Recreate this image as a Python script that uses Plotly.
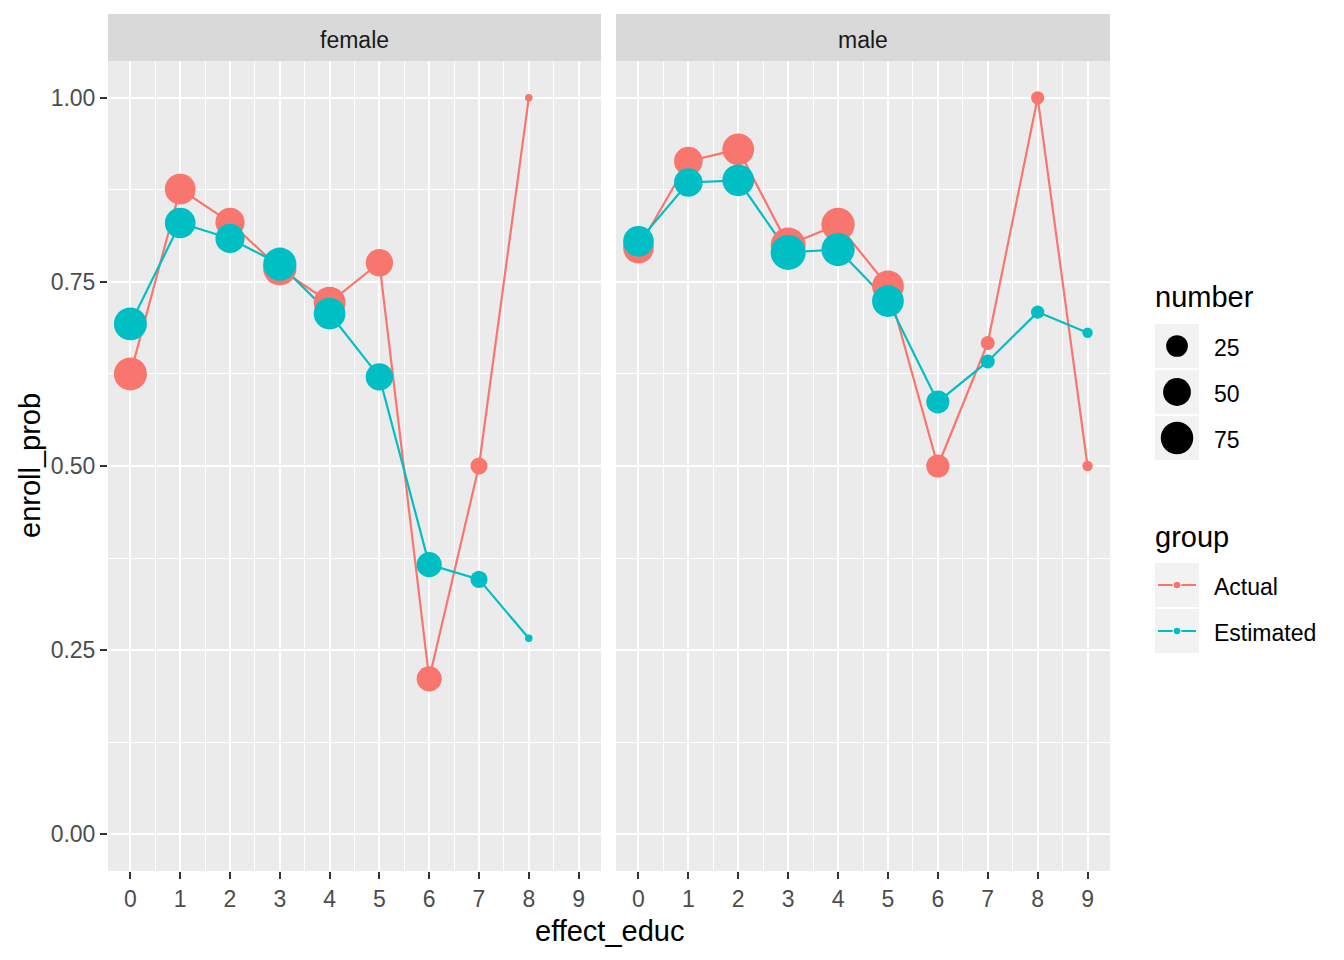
import numpy as np
import plotly.graph_objects as go

W, H = 1344, 960

RED = "#F8766D"
TEAL = "#00BFC4"
PANEL_BG = "#EBEBEB"
STRIP_BG = "#D9D9D9"
KEY_BG = "#F2F2F2"
TICK_GRAY = "#4D4D4D"
FONT = "Liberation Sans, Arial, sans-serif"

# data
panels = ["female", "male"]
female_educ = [0, 1, 2, 3, 4, 5, 6, 7, 8]
female_actual = [0.625, 0.876, 0.831, 0.768, 0.722, 0.776, 0.211, 0.500, 1.000]
female_estimated = [0.693, 0.830, 0.809, 0.774, 0.707, 0.621, 0.366, 0.346, 0.266]
female_number = [78, 65, 57, 80, 71, 48, 38, 12, 1]

male_educ = [0, 1, 2, 3, 4, 5, 6, 7, 8, 9]
male_actual = [0.796, 0.914, 0.930, 0.800, 0.828, 0.744, 0.500, 0.667, 1.000, 0.500]
male_estimated = [0.805, 0.885, 0.888, 0.790, 0.794, 0.724, 0.587, 0.642, 0.709, 0.681]
male_number = [65, 54, 71, 91, 80, 71, 30, 6, 5, 2]

size_breaks = [25, 50, 75]
groups = ["Actual", "Estimated"]
group_colors = [RED, TEAL]

# size scale (area-like, as ggplot's scale_size)
all_numbers = female_number + male_number
N_MIN, N_MAX = min(all_numbers), max(all_numbers)
D_MIN, D_MAX = 7.5, 35.0


def size_px(n):
    n = np.asarray(n, dtype=float)
    return D_MIN + (D_MAX - D_MIN) * np.sqrt((n - N_MIN) / (N_MAX - N_MIN))


def px(x):
    return x / W


def py(y):
    return 1 - y / H


fig = go.Figure()

panel_data = [
    (female_educ, [female_actual, female_estimated], female_number),
    (male_educ, [male_actual, male_estimated], male_number),
]
for i, (xs, series, nums) in enumerate(panel_data):
    xa = "x" if i == 0 else "x2"
    ya = "y" if i == 0 else "y2"
    for name, ys, col in zip(groups, series, group_colors):
        fig.add_trace(go.Scatter(
            x=xs, y=ys, mode="lines", line=dict(color=col, width=2.2),
            xaxis=xa, yaxis=ya, showlegend=False, hoverinfo="skip",
        ))
    for name, ys, col in zip(groups, series, group_colors):
        fig.add_trace(go.Scatter(
            x=xs, y=ys, mode="markers", name=name,
            marker=dict(color=col, size=size_px(nums), opacity=1, line=dict(width=0)),
            xaxis=xa, yaxis=ya, showlegend=False,
        ))

# legend area drawn in its own pixel-space axes
LX0, LX1, LY0, LY1 = 1130, 1344, 250, 690
key_x0, key_x1 = 1155, 1199
key_cx = (key_x0 + key_x1) / 2
size_rows = [346, 392, 438]
group_rows = [585, 631]

fig.add_trace(go.Scatter(
    x=[key_cx] * len(size_breaks), y=size_rows, mode="markers",
    marker=dict(color="black", size=size_px(size_breaks), opacity=1, line=dict(width=0)),
    xaxis="x3", yaxis="y3", showlegend=False, hoverinfo="skip",
))
for row, col in zip(group_rows, group_colors):
    fig.add_trace(go.Scatter(
        x=[key_x0 + 3, key_cx, key_x1 - 3], y=[row] * 3, mode="lines+markers",
        line=dict(color=col, width=2.2), marker=dict(color=col, size=[0, 8, 0], opacity=1),
        xaxis="x3", yaxis="y3", showlegend=False, hoverinfo="skip",
    ))

shapes = [dict(type="rect", xref="x3", yref="y3", layer="below",
               x0=LX0, x1=LX1, y0=LY0, y1=LY1, fillcolor="white", line=dict(width=0))]
annotations = []
for row in size_rows + group_rows:
    shapes.append(dict(type="rect", xref="x3", yref="y3", layer="below",
                       x0=key_x0, x1=key_x1, y0=row - 22, y1=row + 22,
                       fillcolor=KEY_BG, line=dict(width=0)))
for row, n in zip(size_rows, size_breaks):
    annotations.append(dict(xref="x3", yref="y3", x=1212, y=row + 2, text=str(n),
                            showarrow=False, xanchor="left", yanchor="middle",
                            font=dict(size=23, color="black")))
for row, g in zip(group_rows, groups):
    annotations.append(dict(xref="x3", yref="y3", x=1212, y=row + 2, text=g,
                            showarrow=False, xanchor="left", yanchor="middle",
                            font=dict(size=23, color="black")))
for title, y in [("number", 297), ("group", 537)]:
    annotations.append(dict(xref="x3", yref="y3", x=1153, y=y, text=title,
                            showarrow=False, xanchor="left", yanchor="middle",
                            font=dict(size=29, color="black")))

# facet strips
panel_x = [(108, 601), (616, 1110)]
for (x0, x1), label in zip(panel_x, panels):
    shapes.append(dict(type="rect", xref="paper", yref="paper",
                       x0=px(x0), x1=px(x1), y0=py(61), y1=py(14),
                       fillcolor=STRIP_BG, line=dict(width=0)))
    annotations.append(dict(xref="paper", yref="paper", x=px((x0 + x1) / 2), y=py(40),
                            text=label, showarrow=False, xanchor="center", yanchor="middle",
                            font=dict(size=23, color="#1A1A1A")))

# shared axis titles
annotations.append(dict(xref="paper", yref="paper", x=px(609), y=py(931),
                        text="effect_educ", showarrow=False, xanchor="center",
                        yanchor="middle", font=dict(size=29, color="black")))
annotations.append(dict(xref="paper", yref="paper", x=px(30), y=py(466),
                        text="enroll_prob", textangle=-90, showarrow=False,
                        xanchor="center", yanchor="middle",
                        font=dict(size=29, color="black")))

common_x = dict(
    range=[-0.45, 9.45], tick0=0, dtick=1, showgrid=True, gridcolor="white",
    gridwidth=2.4, zeroline=False, showline=False, ticks="outside", ticklen=7,
    tickwidth=2, tickcolor="#333333", tickfont=dict(size=23, color=TICK_GRAY),
    minor=dict(dtick=0.5, showgrid=True, gridcolor="white", gridwidth=1.2),
    automargin=False, fixedrange=True,
)
common_y = dict(
    range=[-0.05, 1.05], tick0=0, dtick=0.25, tickformat=".2f", showgrid=True,
    gridcolor="white", gridwidth=2.4, zeroline=False, showline=False,
    minor=dict(dtick=0.125, showgrid=True, gridcolor="white", gridwidth=1.2),
    automargin=False, fixedrange=True,
)

fig.update_layout(
    width=W, height=H, template="none",
    margin=dict(l=0, r=0, t=0, b=0, pad=0),
    paper_bgcolor="white", plot_bgcolor=PANEL_BG,
    font=dict(family=FONT, color="black"),
    showlegend=False,
    xaxis=dict(domain=[px(108), px(601)], anchor="y", **common_x),
    xaxis2=dict(domain=[px(616), px(1110)], anchor="y2", **common_x),
    yaxis=dict(domain=[py(871), py(61)], anchor="x", ticks="outside", ticklen=7,
               tickwidth=2, tickcolor="#333333",
               tickfont=dict(size=23, color=TICK_GRAY), **common_y),
    yaxis2=dict(domain=[py(871), py(61)], anchor="x2", matches="y",
                showticklabels=False, ticks="", **common_y),
    xaxis3=dict(domain=[px(LX0), px(LX1)], anchor="y3", range=[LX0, LX1],
                visible=False, fixedrange=True),
    yaxis3=dict(domain=[py(LY1), py(LY0)], anchor="x3", range=[LY1, LY0],
                visible=False, fixedrange=True),
    shapes=shapes,
    annotations=annotations,
)

fig.write_html(
    "out.html",
    config={"displayModeBar": False},
    post_script="document.body.style.margin='0';document.body.style.overflow='hidden';",
)
